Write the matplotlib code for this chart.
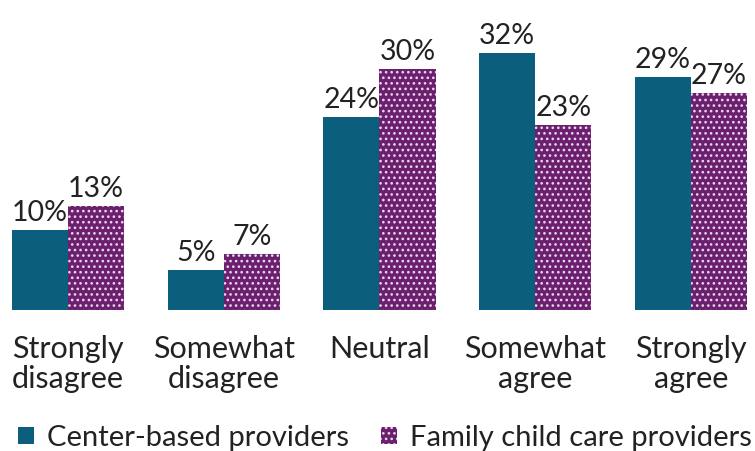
import numpy as np
import matplotlib
matplotlib.use("Agg")
import matplotlib.pyplot as plt

plt.rcParams['font.family'] = ['Lato', 'DejaVu Sans']
plt.rcParams['hatch.linewidth'] = 1.1

categories = ["Strongly\ndisagree", "Somewhat\ndisagree", "Neutral", "Somewhat\nagree", "Strongly\nagree"]
center_based = [10, 5, 24, 32, 29]
family_care = [13, 7, 30, 23, 27]
series_names = ["Center-based providers", "Family child care providers"]

teal = "#0b5e7c"
purple = "#6c1f6f"

fig = plt.figure(figsize=(7.55, 4.51), dpi=100)
ax = fig.add_axes([12 / 755, 141 / 451, 735 / 755, 310 / 451])

x = np.arange(len(categories))
w = 0.36
b1 = ax.bar(x - w / 2, center_based, w, color=teal, linewidth=0, label=series_names[0])
b2 = ax.bar(x + w / 2, family_care, w, color=purple, edgecolor="#e8d8e8", linewidth=0,
            hatch="...", label=series_names[1])

for bars, vals in [(b1, center_based), (b2, family_care)]:
    for r, v in zip(bars, vals):
        ax.text(r.get_x() + r.get_width() / 2, v + 0.5, f"{v}%", ha="center", va="bottom",
                fontsize=20.5, color="#222222")

ax.set_xlim(-0.36, 4.36)
ax.set_ylim(0, 38.6)
ax.set_xticks(x)
ax.set_xticklabels(categories, fontsize=22, color="#222222", linespacing=1.1)
ax.tick_params(axis="x", length=0, pad=18)
ax.set_yticks([])
for s in ax.spines.values():
    s.set_visible(False)

fig.legend(handles=[b1, b2], loc="center", bbox_to_anchor=(385 / 755, 1 - 438 / 451), ncol=2,
           frameon=False, fontsize=21, handlelength=0.55, handleheight=0.55,
           handletextpad=0.45, columnspacing=1.1, labelcolor="#222222",
           borderpad=0, borderaxespad=0)

fig.savefig("out.png", dpi=100)
